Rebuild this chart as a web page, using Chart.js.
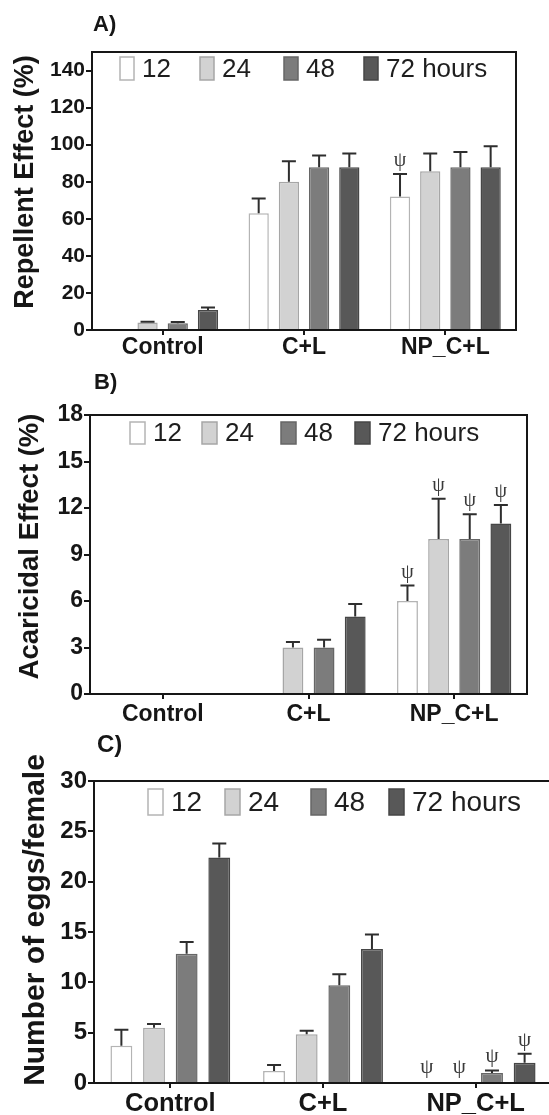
<!DOCTYPE html>
<html>
<head>
<meta charset="utf-8">
<script src="https://cdn.jsdelivr.net/npm/chart.js@4.4.1/dist/chart.umd.min.js"></script>
<style>
  html, body { margin: 0; padding: 0; background: #fff; overflow: hidden; width: 549px; height: 1115px; }
  canvas { position: absolute; left: 0; }
  #chartA { top: 0; }
  #chartB { top: 365px; }
  #chartC { top: 735px; }
</style>
</head>
<body>
<canvas id="chartA" width="549" height="365"></canvas>
<canvas id="chartB" width="549" height="370"></canvas>
<canvas id="chartC" width="560" height="380"></canvas>
<script>
/* ── Datos ─────────────────────────────────────────────────────────── */
const groups  = ['Control', 'C+L', 'NP_C+L'];
const periods = ['12', '24', '48', '72 hours'];

// A) Repellent effect (%)
const rep12 = [0, 63, 72];
const rep24 = [4, 80, 85.7];
const rep48 = [3.6, 87.8, 87.8];
const rep72 = [10.8, 87.8, 87.8];
const repErr12 = [0, 8, 12.2];
const repErr24 = [0.5, 11, 9.5];
const repErr48 = [0.7, 6.3, 8.3];
const repErr72 = [1.4, 7.4, 11.4];
const repPsi12 = [0, 0, 1];
const repPsi24 = [0, 0, 0];
const repPsi48 = [0, 0, 0];
const repPsi72 = [0, 0, 0];
const repTicks = [0, 20, 40, 60, 80, 100, 120, 140];

// B) Acaricidal effect (%)
const aca12 = [0, 0, 6];
const aca24 = [0, 3, 10];
const aca48 = [0, 3, 10];
const aca72 = [0, 5, 11];
const acaErr12 = [0, 0, 1];
const acaErr24 = [0, 0.35, 2.6];
const acaErr48 = [0, 0.5, 1.6];
const acaErr72 = [0, 0.8, 1.2];
const acaPsi12 = [0, 0, 1];
const acaPsi24 = [0, 0, 1];
const acaPsi48 = [0, 0, 1];
const acaPsi72 = [0, 0, 1];
const acaTicks = [0, 3, 6, 9, 12, 15, 18];

// C) Number of eggs/female
const egg12 = [3.7, 1.2, 0];
const egg24 = [5.5, 4.85, 0];
const egg48 = [12.85, 9.7, 1.0];
const egg72 = [22.4, 13.3, 2.0];
const eggErr12 = [1.6, 0.6, 0];
const eggErr24 = [0.35, 0.35, 0];
const eggErr48 = [1.15, 1.1, 0.25];
const eggErr72 = [1.4, 1.45, 0.9];
const eggPsi12 = [0, 0, 1];
const eggPsi24 = [0, 0, 1];
const eggPsi48 = [0, 0, 1];
const eggPsi72 = [0, 0, 1];
const eggTicks = [0, 5, 10, 15, 20, 25, 30];

/* ── Estilo ────────────────────────────────────────────────────────── */
const SANS  = "'Liberation Sans', Arial, Helvetica, sans-serif";
const SERIF = "'Liberation Serif', 'DejaVu Serif', serif";
const INK   = '#161616';
const fills   = ['#ffffff', '#d2d2d2', '#7c7c7c', '#585858'];
const borders = ['#b4b4b4', '#a6a6a6', '#666666', '#464646'];

/* Barras de error, ψ, leyenda interna, marco, etiqueta del panel y título Y */
const panelDecor = {
  id: 'panelDecor',
  afterDatasetsDraw(chart, args, o) {
    const ctx = chart.ctx, y = chart.scales.y;
    ctx.save();
    chart.data.datasets.forEach((ds, di) => {
      chart.getDatasetMeta(di).data.forEach((bar, i) => {
        const v = ds.data[i], e = o.errors[di][i];
        let top = bar.y;
        if (e > 0) {
          top = y.getPixelForValue(v + e);
          ctx.strokeStyle = '#2e2e2e';
          ctx.lineWidth = 2;
          ctx.beginPath();
          ctx.moveTo(bar.x, bar.y); ctx.lineTo(bar.x, top);
          ctx.moveTo(bar.x - o.cap, top); ctx.lineTo(bar.x + o.cap, top);
          ctx.stroke();
        }
        if (o.psi[di][i]) {
          ctx.fillStyle = '#3a3a3a';
          ctx.font = o.psiSize + 'px ' + SERIF;
          ctx.textAlign = 'center';
          ctx.textBaseline = 'bottom';
          ctx.fillText('\u03c8', bar.x, top - (e > 0 ? 3 : 5));
        }
      });
    });
    ctx.restore();
  },
  afterDraw(chart, args, o) {
    const ctx = chart.ctx, ca = chart.chartArea;
    ctx.save();
    // marco
    ctx.strokeStyle = INK;
    ctx.lineWidth = 2;
    ctx.strokeRect(ca.left, ca.top, ca.right - ca.left, ca.bottom - ca.top);
    // leyenda
    const cy = ca.top + o.legendDy;
    chart.data.datasets.forEach((ds, di) => {
      const bx = o.legendX[di];
      ctx.fillStyle = ds.backgroundColor;
      ctx.fillRect(bx, cy - o.boxH / 2, o.boxW, o.boxH);
      ctx.strokeStyle = ds.borderColor;
      ctx.lineWidth = 1.5;
      ctx.strokeRect(bx, cy - o.boxH / 2, o.boxW, o.boxH);
      ctx.fillStyle = '#1e1e1e';
      ctx.font = o.legendSize + 'px ' + SANS;
      ctx.textAlign = 'left';
      ctx.textBaseline = 'middle';
      ctx.fillText(ds.label, bx + o.boxW + 8, cy + 1);
    });
    // etiqueta del panel
    ctx.fillStyle = INK;
    ctx.font = 'bold ' + o.labelSize + 'px ' + SANS;
    ctx.textAlign = 'left';
    ctx.textBaseline = 'middle';
    ctx.fillText(o.label, ca.left + o.labelDx, ca.top + o.labelDy);
    // título del eje Y
    ctx.translate(o.yTitleX, (ca.top + ca.bottom) / 2 + o.yTitleDy);
    ctx.rotate(-Math.PI / 2);
    ctx.font = 'bold ' + o.yTitleSize + 'px ' + SANS;
    ctx.textAlign = 'center';
    ctx.fillText(o.yTitle, 0, 0);
    ctx.restore();
  }
};

function makePanel(id, p) {
  const series = [p.s12, p.s24, p.s48, p.s72];
  new Chart(document.getElementById(id), {
    type: 'bar',
    data: {
      labels: groups,
      datasets: series.map((d, k) => ({
        label: periods[k],
        data: d,
        backgroundColor: fills[k],
        borderColor: borders[k],
        borderWidth: 1.5,
        categoryPercentage: 0.855,
        barPercentage: 0.67,
      })),
    },
    plugins: [panelDecor],
    options: {
      responsive: false,
      animation: false,
      layout: { padding: { top: p.padTop, right: p.padRight, left: 0, bottom: 0 } },
      plugins: {
        legend:  { display: false },
        tooltip: { enabled: false },
        panelDecor: p.decor,
      },
      scales: {
        x: {
          afterFit: (s) => { s.height = p.xHeight; },
          grid:   { offset: false, drawOnChartArea: false, tickLength: 5, color: INK, lineWidth: 2 },
          border: { display: true, color: INK, width: 2 },
          ticks:  { color: INK, padding: p.xPad, font: { family: SANS, size: p.xFont, weight: 'bold', lineHeight: 1 } },
        },
        y: {
          min: 0,
          max: p.max,
          afterFit: (s) => { s.width = p.yWidth; },
          afterBuildTicks: (s) => { s.ticks = p.ticks.map(v => ({ value: v })); },
          grid:   { drawOnChartArea: false, tickLength: 6, color: INK, lineWidth: 2 },
          border: { display: true, color: INK, width: 2 },
          ticks:  { color: INK, padding: 1, font: { family: SANS, size: p.yFont, weight: 'bold' } },
        },
      },
    },
  });
}

makePanel('chartA', {
  s12: rep12, s24: rep24, s48: rep48, s72: rep72,
  max: 150, ticks: repTicks,
  padTop: 52, padRight: 33, yWidth: 92, xHeight: 35,
  xFont: 23, xPad: 1, yFont: 21,
  decor: {
    errors: [repErr12, repErr24, repErr48, repErr72],
    psi: [repPsi12, repPsi24, repPsi48, repPsi72],
    cap: 7, psiSize: 20,
    legendX: [120, 200, 284, 364], legendDy: 16.5, boxW: 14, boxH: 23, legendSize: 26,
    label: 'A)', labelDx: 1, labelDy: -27, labelSize: 22,
    yTitle: 'Repellent Effect (%)', yTitleX: 26, yTitleDy: -9, yTitleSize: 27,
  },
});

makePanel('chartB', {
  s12: aca12, s24: aca24, s48: aca48, s72: aca72,
  max: 18, ticks: acaTicks,
  padTop: 50, padRight: 22, yWidth: 90, xHeight: 41,
  xFont: 23, xPad: 4, yFont: 23,
  decor: {
    errors: [acaErr12, acaErr24, acaErr48, acaErr72],
    psi: [acaPsi12, acaPsi24, acaPsi48, acaPsi72],
    cap: 7, psiSize: 20,
    legendX: [130, 202, 281, 355], legendDy: 18, boxW: 15, boxH: 22, legendSize: 26,
    label: 'B)', labelDx: 4, labelDy: -32, labelSize: 22,
    yTitle: 'Acaricidal Effect (%)', yTitleX: 30, yTitleDy: -8, yTitleSize: 27.5,
  },
});

makePanel('chartC', {
  s12: egg12, s24: egg24, s48: egg48, s72: egg72,
  max: 30, ticks: eggTicks,
  padTop: 46, padRight: 8, yWidth: 94, xHeight: 32,
  xFont: 25.5, xPad: 3, yFont: 24,
  decor: {
    errors: [eggErr12, eggErr24, eggErr48, eggErr72],
    psi: [eggPsi12, eggPsi24, eggPsi48, eggPsi72],
    cap: 7, psiSize: 21,
    legendX: [148, 225, 311, 389], legendDy: 21, boxW: 15, boxH: 26, legendSize: 28,
    label: 'C)', labelDx: 3, labelDy: -36, labelSize: 24,
    yTitle: 'Number of eggs/female', yTitleX: 36, yTitleDy: -12, yTitleSize: 30,
  },
});
</script>
</body>
</html>
